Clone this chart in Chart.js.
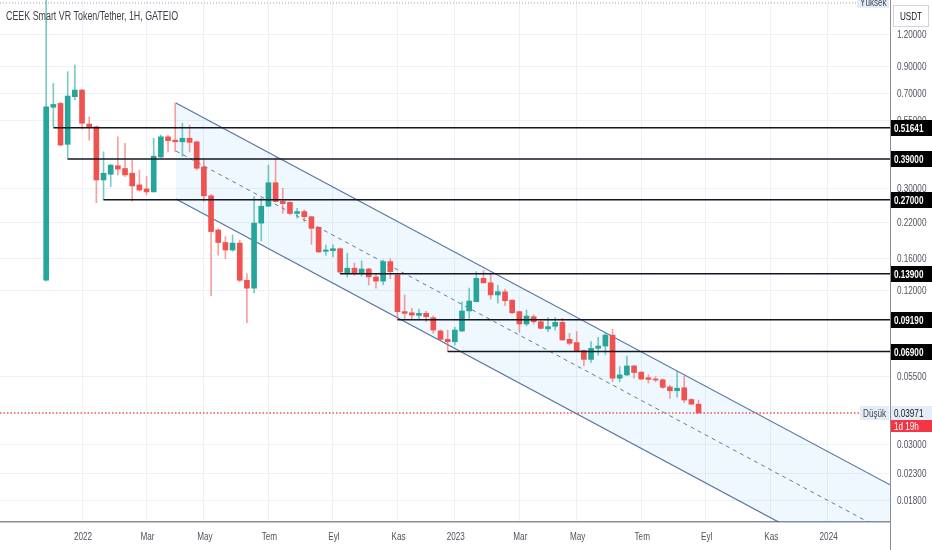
<!DOCTYPE html>
<html lang="tr">
<head>
<meta charset="utf-8">
<title>CEEK Smart VR Token/Tether, 1H, GATEIO</title>
<script src="https://cdn.jsdelivr.net/npm/chart.js@4.4.1/dist/chart.umd.min.js"></script>
<style>
    html, body { margin: 0; padding: 0; background: #ffffff; }
    #kutu { position: relative; width: 932px; height: 550px; }
</style>
</head>
<body>
<div id="kutu"><canvas id="grafik"></canvas></div>
<script>
// haftalik mumlar, 0. mum = 29 Kas 2021
const acilis = [0.131, 0.621, 0.643, 0.445, 0.683, 0.725, 0.534, 0.521, 0.323, 0.340,
    0.367, 0.358, 0.343, 0.309, 0.298, 0.290, 0.397, 0.476, 0.462, 0.455,
    0.470, 0.455, 0.363, 0.280, 0.206, 0.184, 0.172, 0.183, 0.131, 0.122,
    0.219, 0.255, 0.315, 0.267, 0.264, 0.239, 0.243, 0.232, 0.211, 0.170,
    0.171, 0.174, 0.139, 0.146, 0.140, 0.145, 0.135, 0.130, 0.155, 0.1373,
    0.0988, 0.0978, 0.0955, 0.0973, 0.0935, 0.083, 0.077, 0.0754, 0.083, 0.0994,
    0.108, 0.1333, 0.128, 0.1148, 0.118, 0.1095, 0.0988, 0.0884, 0.0944, 0.0902,
    0.0846, 0.0866, 0.0897, 0.077, 0.0748, 0.0697, 0.0643, 0.071, 0.0725, 0.080,
    0.0543, 0.0559, 0.0606, 0.0573, 0.0545, 0.0539, 0.0535, 0.0502, 0.0485, 0.0498,
    0.0448, 0.043];
const yuksek = [1.8, 0.77, 0.65, 0.855, 0.908, 0.73, 0.570, 0.525, 0.416, 0.372,
    0.476, 0.449, 0.386, 0.353, 0.333, 0.470, 0.484, 0.484, 0.645, 0.538,
    0.529, 0.458, 0.386, 0.283, 0.208, 0.194, 0.197, 0.188, 0.139, 0.278,
    0.274, 0.369, 0.395, 0.300, 0.265, 0.250, 0.247, 0.233, 0.212, 0.180,
    0.180, 0.175, 0.167, 0.153, 0.156, 0.146, 0.138, 0.157, 0.159, 0.139,
    0.1148, 0.1018, 0.101, 0.099, 0.095, 0.084, 0.0837, 0.0858, 0.108, 0.122,
    0.1415, 0.143, 0.139, 0.1255, 0.121, 0.110, 0.099, 0.1002, 0.096, 0.091,
    0.0937, 0.0937, 0.093, 0.0813, 0.0825, 0.0699, 0.0754, 0.0784, 0.082, 0.0843,
    0.0602, 0.0663, 0.061, 0.0577, 0.0559, 0.055, 0.054, 0.051, 0.0579, 0.0554,
    0.0452, 0.0446];
const dusuk = [0.13, 0.52, 0.44, 0.39, 0.663, 0.511, 0.462, 0.263, 0.27, 0.304,
    0.338, 0.333, 0.267, 0.292, 0.282, 0.290, 0.395, 0.416, 0.416, 0.400,
    0.416, 0.353, 0.266, 0.114, 0.164, 0.159, 0.170, 0.129, 0.0894, 0.117,
    0.187, 0.255, 0.265, 0.239, 0.236, 0.229, 0.222, 0.181, 0.168, 0.164,
    0.162, 0.139, 0.135, 0.137, 0.136, 0.1255, 0.122, 0.1255, 0.133, 0.0919,
    0.093, 0.092, 0.093, 0.0902, 0.0813, 0.0765, 0.069, 0.0732, 0.0825, 0.093,
    0.108, 0.1275, 0.1104, 0.1065, 0.1043, 0.097, 0.082, 0.087, 0.0885, 0.0843,
    0.0825, 0.0837, 0.0762, 0.0732, 0.069, 0.0606, 0.0625, 0.0668, 0.0672, 0.0526,
    0.0526, 0.0555, 0.0543, 0.0535, 0.0519, 0.0525, 0.0495, 0.0453, 0.0458, 0.0436,
    0.0428, 0.0397];
const kapanis = [0.624, 0.637, 0.442, 0.687, 0.725, 0.538, 0.517, 0.323, 0.343, 0.369,
    0.356, 0.338, 0.306, 0.295, 0.290, 0.400, 0.476, 0.460, 0.455, 0.470,
    0.453, 0.359, 0.280, 0.203, 0.184, 0.172, 0.183, 0.131, 0.122, 0.219,
    0.255, 0.315, 0.266, 0.261, 0.239, 0.243, 0.232, 0.209, 0.169, 0.172,
    0.174, 0.141, 0.146, 0.139, 0.145, 0.135, 0.130, 0.155, 0.1415, 0.0988,
    0.0973, 0.0958, 0.0973, 0.0944, 0.0837, 0.077, 0.0754, 0.0837, 0.0994, 0.1087,
    0.1333, 0.128, 0.1148, 0.1182, 0.109, 0.0978, 0.0884, 0.095, 0.0902, 0.085,
    0.0863, 0.0897, 0.0766, 0.0743, 0.0693, 0.0643, 0.071, 0.0725, 0.080, 0.0543,
    0.0559, 0.0606, 0.0571, 0.0539, 0.0537, 0.0534, 0.050, 0.0485, 0.0496, 0.0446,
    0.043, 0.03971];

const ayEtiketleri = ['2022', 'Mar', 'May', 'Tem', 'Eyl', 'Kas', '2023', 'Mar', 'May', 'Tem', 'Eyl', 'Kas', '2024'];
const ayHaftalari = [5, 14, 22, 31, 40, 49, 57, 66, 74, 83, 92, 101, 109];
const fiyatEtiketleri = [1.2, 0.9, 0.7, 0.55, 0.3, 0.22, 0.16, 0.12, 0.055, 0.03, 0.023, 0.018];

// yatay destek / direnc cizgileri
const seviyeler = [0.51641, 0.39, 0.27, 0.139, 0.0919, 0.069];
const seviyeBaslangic = [1, 3, 8, 41, 49, 56];

// paralel kanal
const kanalX = [18.1, 117.7];
const kanalUst = [0.645, 0.0208];
const kanalOrta = [0.419, 0.0134];
const kanalAlt = [0.272, 0.0087];

const sonFiyat = 0.03971;
const kalanSure = '1d 19h';
const tepeIsareti = 1.586;

document.addEventListener('DOMContentLoaded', function () {
    const ctx = document.getElementById('grafik').getContext('2d');

    const yesil = '#26a69a';
    const kirmizi = '#ef5350';
    const xMin = -6.44;
    const xMax = 117.7;
    const yazi = "'Liberation Sans', Arial, sans-serif";
    const sikistir = 0.74; // ekran goruntusu yatayda basik

    const govdeRenk = kapanis.map((c, i) => c >= acilis[i] ? yesil : kirmizi);
    const fitilRenk = kapanis.map((c, i) => c >= acilis[i] ? 'rgba(38, 166, 154, 0.6)' : 'rgba(239, 83, 80, 0.55)');

    const seviyeSetleri = seviyeler.map((s, i) => ({
        type: 'line',
        data: [{ x: seviyeBaslangic[i], y: s }, { x: xMax, y: s }],
        borderColor: '#131722',
        borderWidth: 1.5,
        pointRadius: 0,
        order: 0
    }));

    const metinCiz = (c, metin, x, y, hiza, font, renk) => {
        c.save();
        c.font = font;
        c.fillStyle = renk;
        c.textBaseline = 'middle';
        c.textAlign = hiza;
        c.translate(x, y);
        c.scale(sikistir, 1);
        c.fillText(metin, 0, 0);
        c.restore();
    };

    const kutuCiz = (c, x, y, w, h, zemin, metin, renk, font) => {
        c.fillStyle = zemin;
        c.fillRect(x, y, w, h);
        metinCiz(c, metin, x + 3, y + h / 2 + 0.5, 'left', font, renk);
    };

    const ekler = {
        id: 'ekler',
        afterDraw(chart) {
            const c = chart.ctx;
            const xs = chart.scales.x;
            const y = chart.scales.y;
            const alan = chart.chartArea;
            c.save();

            // eksen etiketleri
            y.ticks.forEach(t => {
                metinCiz(c, Number(t.value).toFixed(5), alan.right + 7, y.getPixelForValue(t.value) + 0.5,
                    'left', '11px ' + yazi, '#50535e');
            });
            xs.ticks.forEach(t => {
                metinCiz(c, ayEtiketleri[ayHaftalari.indexOf(t.value)], xs.getPixelForValue(t.value) + 1, 537,
                    'center', '11px ' + yazi, '#50535e');
            });

            // baslik
            metinCiz(c, 'CEEK Smart VR Token/Tether, 1H, GATEIO', 6, 17, 'left', '12px ' + yazi, '#3c3f4a');

            // sag eksen cizgisi alta kadar
            c.strokeStyle = '#8a8d96';
            c.lineWidth = 1;
            c.beginPath();
            c.moveTo(alan.right + 0.5, alan.bottom);
            c.lineTo(alan.right + 0.5, chart.height);
            c.stroke();

            // seviye etiketleri
            seviyeler.forEach(s => {
                const py = Math.round(y.getPixelForValue(s));
                kutuCiz(c, alan.right + 1, py - 8, 41, 16, '#000000', s.toFixed(5), '#ffffff', 'bold 11px ' + yazi);
            });

            // son fiyat
            const sy = Math.round(y.getPixelForValue(sonFiyat));
            kutuCiz(c, alan.right + 1, sy - 7, 41, 14, '#e3ecf7', sonFiyat.toFixed(5), '#131722', '11px ' + yazi);
            kutuCiz(c, alan.right + 1, sy + 7, 41, 12, '#f23645', kalanSure, '#ffffff', '11px ' + yazi);
            kutuCiz(c, alan.right - 30, sy - 7, 29, 14, '#e3ecf7', 'Düşük', '#434651', '11px ' + yazi);

            // tepe isareti
            const ty = Math.round(y.getPixelForValue(tepeIsareti));
            kutuCiz(c, alan.right - 33, ty - 6, 32, 11, '#e3ecf7', 'Yüksek', '#434651', '11px ' + yazi);

            // para birimi
            c.fillStyle = '#ffffff';
            c.fillRect(893.5, 5.5, 35, 21);
            c.strokeStyle = '#d1d4dc';
            c.strokeRect(893.5, 5.5, 35, 21);
            metinCiz(c, 'USDT', 911, 16.5, 'center', '11px ' + yazi, '#131722');
            c.restore();
        }
    };

    new Chart(ctx, {
        type: 'bar',
        data: {
            datasets: [
                {
                    type: 'bar',
                    data: acilis.map((o, i) => ({ x: i, y: [o, kapanis[i]] })),
                    backgroundColor: govdeRenk,
                    barThickness: 5,
                    minBarLength: 1,
                    grouped: false,
                    order: 1
                },
                {
                    type: 'bar',
                    data: dusuk.map((l, i) => ({ x: i, y: [l, yuksek[i]] })),
                    backgroundColor: fitilRenk,
                    barThickness: 1,
                    grouped: false,
                    order: 2
                },
                ...seviyeSetleri,
                {
                    type: 'line',
                    data: [{ x: xMin, y: sonFiyat }, { x: 113.4, y: sonFiyat }],
                    borderColor: '#ef5350',
                    borderWidth: 1.5,
                    borderDash: [1.5, 2],
                    pointRadius: 0,
                    order: 3
                },
                {
                    type: 'line',
                    data: [{ x: xMin, y: tepeIsareti }, { x: 113.2, y: tepeIsareti }],
                    borderColor: '#a3a6af',
                    borderWidth: 1,
                    borderDash: [1, 2],
                    pointRadius: 0,
                    order: 3
                },
                {
                    type: 'line',
                    data: kanalX.map((x, i) => ({ x: x, y: kanalUst[i] })),
                    borderColor: 'rgba(70, 100, 150, 0.9)',
                    borderWidth: 1.2,
                    pointRadius: 0,
                    fill: '+2',
                    backgroundColor: 'rgba(33, 150, 243, 0.07)',
                    order: 6
                },
                {
                    type: 'line',
                    data: kanalX.map((x, i) => ({ x: x, y: kanalOrta[i] })),
                    borderColor: 'rgba(70, 100, 150, 0.85)',
                    borderWidth: 1,
                    borderDash: [4, 4],
                    pointRadius: 0,
                    order: 5
                },
                {
                    type: 'line',
                    data: kanalX.map((x, i) => ({ x: x, y: kanalAlt[i] })),
                    borderColor: 'rgba(70, 100, 150, 0.9)',
                    borderWidth: 1.2,
                    pointRadius: 0,
                    order: 5
                }
            ]
        },
        options: {
            responsive: true,
            maintainAspectRatio: false,
            animation: false,
            events: [],
            layout: { padding: 0 },
            plugins: {
                legend: { display: false },
                tooltip: { enabled: false }
            },
            scales: {
                x: {
                    type: 'linear',
                    min: xMin,
                    max: xMax,
                    offset: false,
                    afterBuildTicks: (scale) => {
                        scale.ticks = ayHaftalari.map(v => ({ value: v }));
                    },
                    afterFit: (scale) => {
                        scale.height = 28;
                        scale.paddingLeft = 0;
                        scale.paddingRight = 0;
                    },
                    grid: { color: '#edf1f7', drawTicks: false, offset: false },
                    border: { color: '#8a8d96', width: 1.5 },
                    ticks: { display: false, autoSkip: false }
                },
                y: {
                    type: 'logarithmic',
                    position: 'right',
                    min: 0.01489,
                    max: 1.63,
                    afterBuildTicks: (scale) => {
                        scale.ticks = fiyatEtiketleri.map(v => ({ value: v }));
                    },
                    afterFit: (scale) => {
                        scale.width = 42;
                        scale.paddingTop = 0;
                        scale.paddingBottom = 0;
                    },
                    grid: { color: '#edf1f7', drawTicks: false },
                    border: { color: '#8a8d96', width: 1 },
                    ticks: { display: false, autoSkip: false }
                }
            }
        },
        plugins: [ekler]
    });
});
</script>
</body>
</html>
